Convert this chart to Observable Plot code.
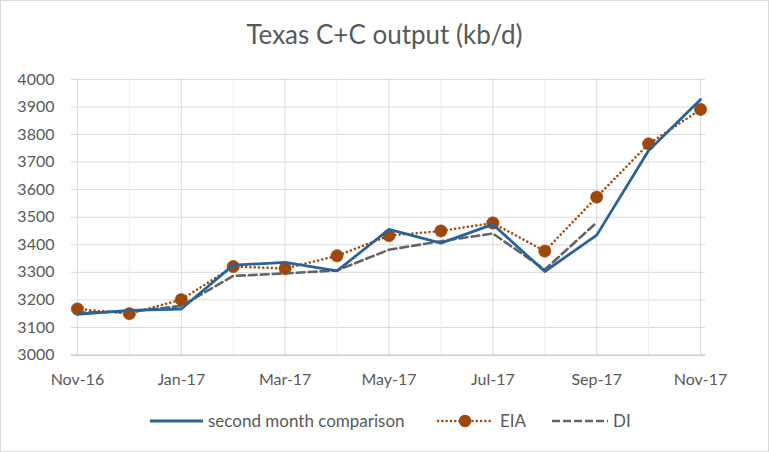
<!DOCTYPE html>
<html>
<head>
<meta charset="utf-8">
<script src="https://cdn.jsdelivr.net/npm/d3@7"></script>
<script src="https://cdn.jsdelivr.net/npm/@observablehq/plot@0.6"></script>
<style>
  html, body { margin: 0; padding: 0; background: #fff; }
  #chart { position: relative; width: 769px; height: 452px; box-sizing: border-box; border: 1px solid #d9d9d9; font-family: Lato, "Open Sans", sans-serif; color: #595959; overflow: hidden; }
  #title { position: absolute; left: -1px; top: 20px; width: 769px; text-align: center; font-size: 26px; line-height: 1; color: #595959; }
  #plot { position: absolute; left: -1px; top: -1px; }
  #legend { position: absolute; left: -1px; top: 407px; width: 769px; height: 26px; }
</style>
</head>
<body>
<div id="chart">
  <div id="plot"></div>
  <div id="title">Texas C+C output (kb/d)</div>
  <div id="legend"></div>
</div>
<script>
const months = ["Nov-16","Dec-16","Jan-17","Feb-17","Mar-17","Apr-17","May-17","Jun-17","Jul-17","Aug-17","Sep-17","Oct-17","Nov-17"];
const secondMonth = [3148, 3162, 3167, 3326, 3336, 3305, 3456, 3406, 3474, 3303, 3435, 3742, 3927];
const eia = [3167, 3150, 3201, 3321, 3314, 3360, 3433, 3450, 3479, 3377, 3573, 3766, 3891];
const di = [3154, 3157, 3178, 3287, 3296, 3307, 3382, 3413, 3441, 3310, 3481];
const yTicks = [3000,3100,3200,3300,3400,3500,3600,3700,3800,3900,4000];
const xLabels = ["Nov-16","Jan-17","Mar-17","May-17","Jul-17","Sep-17","Nov-17"];

const blueData = months.map((m,i)=>({m, v: secondMonth[i]}));
const eiaData = months.map((m,i)=>({m, v: eia[i]}));
const diData = di.map((v,i)=>({m: months[i], v}));
const minorMonths = months.filter(m => !xLabels.includes(m));

const BLUE = "#2a6398", ORANGE = "#9e480e", GRAY = "#646464";

const plot = Plot.plot({
  width: 769,
  height: 402,
  marginTop: 79,
  marginBottom: 47,
  marginLeft: 71,
  marginRight: 63,
  style: { fontFamily: "Lato, 'Open Sans', sans-serif", fontSize: "16px", color: "#595959", background: "transparent" },
  x: { type: "point", domain: months, padding: 0, label: null },
  y: { domain: [3000, 4000], label: null },
  marks: [
    Plot.ruleY(yTicks.filter(t => t > 3000), { stroke: "#d9d9d9", strokeWidth: 1, strokeOpacity: 1 }),
    Plot.ruleX(minorMonths, { x: d => d, stroke: "#ececec", strokeWidth: 1, strokeOpacity: 1 }),
    Plot.ruleX(xLabels, { x: d => d, stroke: "#d9d9d9", strokeWidth: 1, strokeOpacity: 1 }),
    Plot.ruleY([3000], { stroke: "#bfbfbf", strokeWidth: 1.2 }),
    Plot.axisY({ ticks: yTicks, tickSize: 0, tickPadding: 17, tickFormat: d => String(d), fill: "#595959", label: null }),
    Plot.axisX({ ticks: xLabels, tickSize: 0, tickPadding: 19, fill: "#595959", label: null }),
    Plot.line(diData, { x: "m", y: "v", stroke: GRAY, strokeWidth: 2.6, strokeDasharray: "8 4" }),
    Plot.line(eiaData, { x: "m", y: "v", stroke: ORANGE, strokeWidth: 2.5, strokeDasharray: "0.1 4.2", strokeLinecap: "round" }),
    Plot.dot(eiaData, { x: "m", y: "v", r: 6.2, fill: ORANGE, stroke: ORANGE, strokeWidth: 0.5 }),
    Plot.line(blueData, { x: "m", y: "v", stroke: BLUE, strokeWidth: 2.8 })
  ]
});
document.getElementById("plot").appendChild(plot);

// legend
const leg = d3.select("#legend").append("svg").attr("width", 769).attr("height", 26)
  .style("font-family", "Lato, 'Open Sans', sans-serif").style("font-size", "17px");
const cy = 13;
leg.append("line").attr("x1", 150).attr("x2", 203).attr("y1", cy).attr("y2", cy).attr("stroke", BLUE).attr("stroke-width", 2.8);
leg.append("text").attr("x", 208).attr("y", cy).attr("dy", "0.35em").attr("fill", "#595959").text("second month comparison");
leg.append("line").attr("x1", 438).attr("x2", 490).attr("y1", cy).attr("y2", cy).attr("stroke", ORANGE).attr("stroke-width", 2.5).attr("stroke-dasharray", "0.1 4.2").attr("stroke-linecap", "round");
leg.append("circle").attr("cx", 465).attr("cy", cy).attr("r", 6.2).attr("fill", ORANGE);
leg.append("text").attr("x", 500).attr("y", cy).attr("dy", "0.35em").attr("fill", "#595959").text("EIA");
leg.append("line").attr("x1", 552).attr("x2", 608).attr("y1", cy).attr("y2", cy).attr("stroke", GRAY).attr("stroke-width", 2.6).attr("stroke-dasharray", "8 3");
leg.append("text").attr("x", 613).attr("y", cy).attr("dy", "0.35em").attr("fill", "#595959").text("DI");
</script>
</body>
</html>
